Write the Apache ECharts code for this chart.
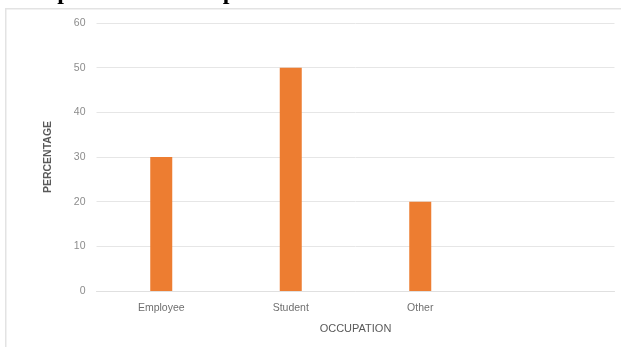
<!DOCTYPE html>
<html>
<head>
<meta charset="utf-8">
<script src="https://cdn.jsdelivr.net/npm/echarts@6/dist/echarts.min.js"></script>
<style>html,body{margin:0;padding:0;background:#fff}#c{width:621px;height:347px}</style>
</head>
<body>
<div id="c"></div>
<script>
const categories = ['Employee', 'Student', 'Other', ''];
const percentages = [30, 50, 20, null];
const yTicks = [0, 10, 20, 30, 40, 50, 60];
const titleText = 'Occupation of the respondents';

const chart = echarts.init(document.getElementById('c'), null, {renderer: 'canvas'});
chart.setOption({
  animation: false,
  backgroundColor: '#fff',
  graphic: [
    {type: 'rect', left: 5, top: 8, z: -1, shape: {x: 0, y: 0, width: 640, height: 360},
     style: {fill: '#fff', stroke: '#e3e3e3', lineWidth: 1.5}},
    {type: 'text', left: 4, top: -19, z: 10, style: {text: titleText, font: 'bold 24px "Liberation Serif", serif', fill: '#000'}}
  ],
  grid: {left: 96.5, right: 6.5, top: 23, bottom: 56, containLabel: false},
  xAxis: {
    type: 'category', data: categories,
    name: 'OCCUPATION', nameLocation: 'middle', nameGap: 32,
    nameTextStyle: {color: '#595959', fontSize: 11, fontFamily: 'Liberation Sans'},
    axisLine: {show: true, lineStyle: {color: '#e0e0e0', width: 1}},
    axisTick: {show: false},
    axisLabel: {color: '#6f6f6f', fontSize: 10.5, fontFamily: 'Liberation Sans', margin: 12, interval: 0}
  },
  yAxis: {
    type: 'value', min: yTicks[0], max: yTicks[yTicks.length - 1], interval: 10,
    name: 'PERCENTAGE', nameLocation: 'middle', nameGap: 43,
    nameTextStyle: {color: '#595959', fontSize: 10.5, fontFamily: 'Liberation Sans', fontWeight: 'bold'},
    axisLine: {show: false}, axisTick: {show: false},
    axisLabel: {color: '#8c8c8c', fontSize: 10.5, fontFamily: 'Liberation Sans', margin: 11},
    splitLine: {lineStyle: {color: '#e6e6e6', width: 1}}
  },
  series: [{
    type: 'bar', data: percentages, barWidth: 22,
    itemStyle: {color: '#ED7D31'}
  }]
});
</script>
</body>
</html>
